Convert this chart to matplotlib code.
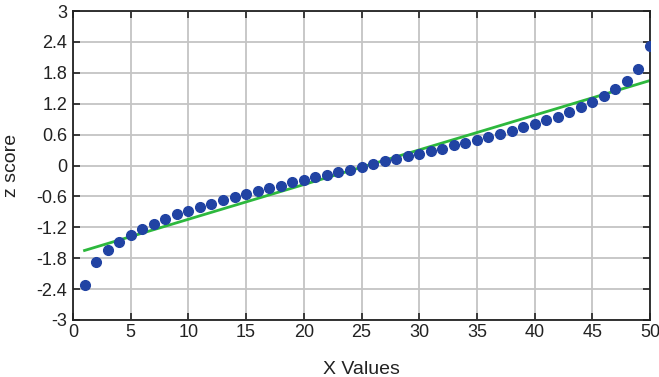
import matplotlib.pyplot as plt

plt.rcParams["font.family"] = ["Liberation Sans", "DejaVu Sans"]

# sample order and z scores
x_vals = list(range(1, 51))
z_scores = [-2.33, -1.88, -1.64, -1.48, -1.34, -1.23, -1.13, -1.04, -0.95, -0.88,
            -0.81, -0.74, -0.67, -0.61, -0.55, -0.50, -0.44, -0.39, -0.33, -0.28,
            -0.23, -0.18, -0.13, -0.08, -0.03, 0.03, 0.08, 0.13, 0.18, 0.23,
            0.28, 0.33, 0.39, 0.44, 0.50, 0.55, 0.61, 0.67, 0.74, 0.81,
            0.88, 0.95, 1.04, 1.13, 1.23, 1.34, 1.48, 1.64, 1.88, 2.33]

# fitted line end points
fit_x = [1, 50]
fit_y = [-1.65, 1.65]

xticks = [0, 5, 10, 15, 20, 25, 30, 35, 40, 45, 50]
yticks = [-3, -2.4, -1.8, -1.2, -0.6, 0, 0.6, 1.2, 1.8, 2.4, 3]
ytick_labels = ["-3", "-2.4", "-1.8", "-1.2", "-0.6", "0", "0.6", "1.2", "1.8", "2.4", "3"]

fig = plt.figure(figsize=(6.59, 3.77), dpi=100)
ax = fig.add_axes([73 / 659, 1 - 320 / 377, (650 - 73) / 659, (320 - 11) / 377])

ax.plot(fit_x, fit_y, color="#2db83d", linewidth=2, zorder=2)
ax.plot(x_vals, z_scores, "o", color="#2143a3", markersize=7, zorder=3)

ax.set_xlim(0, 50)
ax.set_ylim(-3, 3)
ax.set_xticks(xticks)
ax.set_yticks(yticks)
ax.set_yticklabels(ytick_labels)
ax.grid(True, color="#c4c4c4", linewidth=1.3)
ax.set_axisbelow(True)

ax.tick_params(direction="in", length=5, width=1.2, top=True, right=True,
               labelsize=13, colors="#222222")
ax.tick_params(axis="x", pad=3)
ax.tick_params(axis="y", pad=4)
for s in ax.spines.values():
    s.set_linewidth(1.3)
    s.set_color("#222222")

ax.set_xlabel("X Values", fontsize=14, color="#222222", labelpad=14)
ax.set_ylabel("z score", fontsize=14, color="#222222", labelpad=12)

fig.savefig("out.png", dpi=100)
